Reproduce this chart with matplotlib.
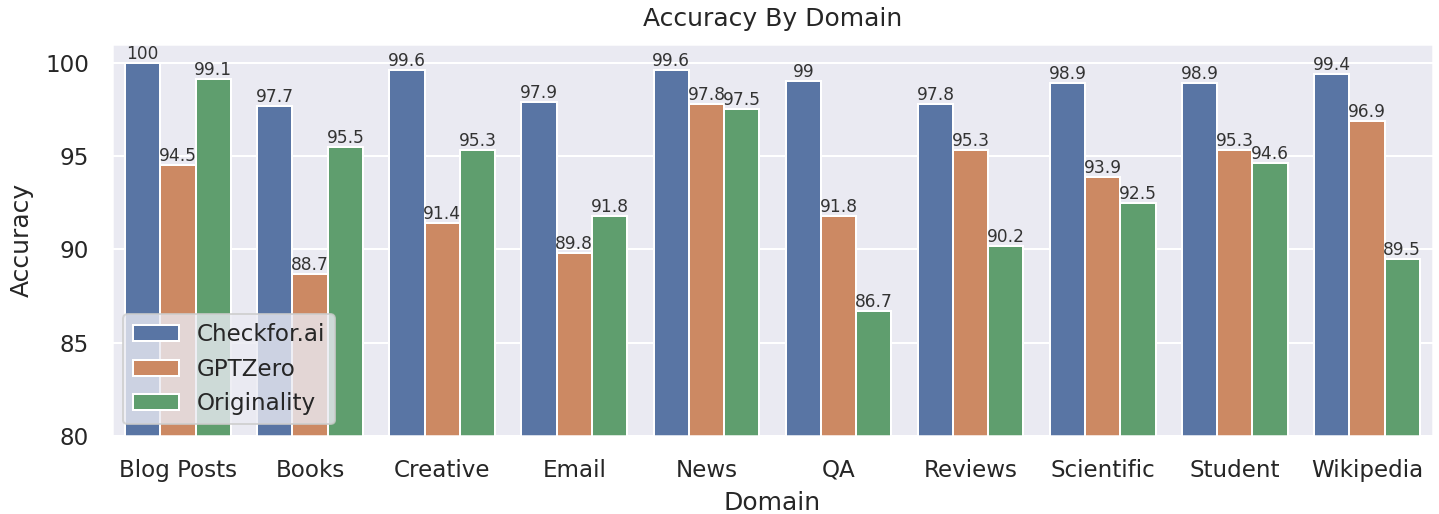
import matplotlib
matplotlib.use("Agg")
import matplotlib.pyplot as plt
import seaborn as sns
import numpy as np
import pandas as pd

domains = ["Blog Posts", "Books", "Creative", "Email", "News", "QA", "Reviews",
           "Scientific", "Student", "Wikipedia"]
checkfor = [100, 97.7, 99.6, 97.9, 99.6, 99, 97.8, 98.9, 98.9, 99.4]
gptzero = [94.5, 88.7, 91.4, 89.8, 97.8, 91.8, 95.3, 93.9, 95.3, 96.9]
originality = [99.1, 95.5, 95.3, 91.8, 97.5, 86.7, 90.2, 92.5, 94.6, 89.5]
models = ["Checkfor.ai", "GPTZero", "Originality"]

df = pd.DataFrame({
    "Domain": domains * 3,
    "Accuracy": checkfor + gptzero + originality,
    "Model": [m for m in models for _ in domains],
})

sns.set_theme(style="darkgrid")
fig = plt.figure(figsize=(1439 / 144, 514 / 144), dpi=144)
ax = fig.add_axes([0.0778, 0.1518, 0.918, 0.7626])
sns.barplot(data=df, x="Domain", y="Accuracy", hue="Model", ax=ax)
for c in ax.containers:
    ax.bar_label(c, fontsize=8.5, color="#333333", padding=0)
ax.set_ylim(80, 101)
ax.set_yticks([80, 85, 90, 95, 100])
ax.tick_params(axis="both", labelsize=11.5, pad=5.5)
ax.set_xlabel("Domain", fontsize=12.5, labelpad=4.5)
ax.set_ylabel("Accuracy", fontsize=12.5, labelpad=5.5)
ax.set_title("Accuracy By Domain", fontsize=12.5, pad=9)
ax.legend(loc="lower left", fontsize=11.5)
fig.savefig("out.png", dpi=144)
